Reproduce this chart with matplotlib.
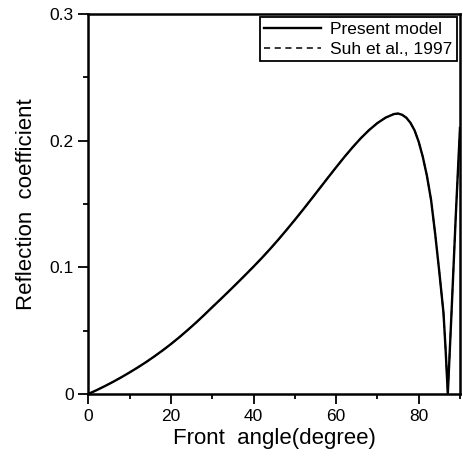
import matplotlib.pyplot as plt
from matplotlib.ticker import MultipleLocator

plt.rcParams['font.family'] = ['Liberation Sans', 'DejaVu Sans']

# valores
angulo = [0, 2, 4, 6, 8, 10, 12, 14, 16, 18, 20, 22, 24, 26, 28, 30, 32, 34,
          36, 38, 40, 42, 44, 46, 48, 50, 52, 54, 56, 58, 60, 62, 64, 66, 68,
          70, 72, 74, 75, 76, 77, 78, 79, 80, 81, 82, 83, 84, 85,
          85.5, 86, 86.5, 87.05, 88, 89, 90]
modelo = [0, 0.0030, 0.0062, 0.0096, 0.0132, 0.0170, 0.0210, 0.0252, 0.0297,
          0.0344, 0.0394, 0.0447, 0.0503, 0.0561, 0.0622, 0.0685, 0.0747,
          0.0810, 0.0874, 0.0939, 0.1005, 0.1073, 0.1144, 0.1218, 0.1295,
          0.1374, 0.1455, 0.1538, 0.1622, 0.1706, 0.1789, 0.1870, 0.1947,
          0.2019, 0.2083, 0.2138, 0.2181, 0.2209, 0.2213, 0.2203, 0.2180,
          0.2140, 0.2080, 0.1990, 0.1870, 0.1720, 0.1530, 0.1260, 0.0960,
          0.0800, 0.0640, 0.0360, 0.0, 0.068, 0.142, 0.21]
suh = list(modelo)

fig = plt.figure(figsize=(4.63, 4.61), dpi=100)
ax = fig.add_axes([0.191, 0.1455, 0.8025, 0.8245])

ax.plot(angulo, modelo, color="black", lw=1.7, label="Present model")
ax.plot(angulo, suh, color="black", lw=1.1, ls=(0, (4, 3)), label="Suh et al., 1997")

ax.set_xlim(0, 90)
ax.set_ylim(0, 0.3)
ax.xaxis.set_major_locator(MultipleLocator(20))
ax.xaxis.set_minor_locator(MultipleLocator(10))
ax.set_yticks([0, 0.1, 0.2, 0.3])
ax.set_yticklabels(["0", "0.1", "0.2", "0.3"])
ax.yaxis.set_minor_locator(MultipleLocator(0.05))
ax.tick_params(which="major", length=7, width=1.3, labelsize=12.5, direction="out")
ax.tick_params(which="minor", length=3.5, width=1.3, direction="out")
ax.tick_params(top=False, right=False)
for s in ax.spines.values():
    s.set_linewidth(1.8)

ax.set_xlabel("Front  angle(degree)", fontsize=16, labelpad=3)
ax.set_ylabel("Reflection  coefficient", fontsize=16, labelpad=9)

leg = ax.legend(loc="upper right", fontsize=12.5, handlelength=3.3,
                fancybox=False, framealpha=1, edgecolor="black",
                borderaxespad=0.2, borderpad=0.25, labelspacing=0.3,
                handletextpad=0.5)
leg.get_frame().set_linewidth(1.3)

plt.savefig("out.png", dpi=100)
